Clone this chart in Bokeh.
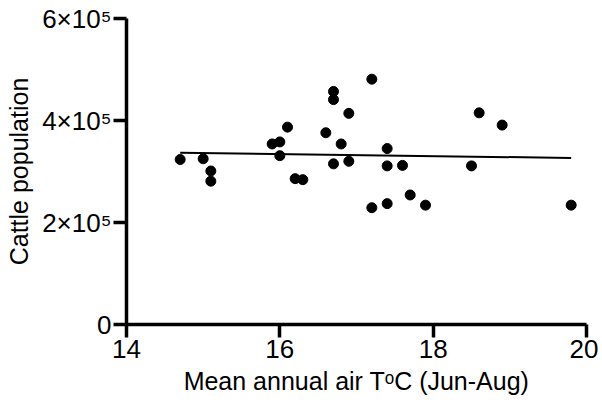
from bokeh.plotting import figure
from bokeh.models import FixedTicker, Range1d
from bokeh.embed import file_html
from bokeh.resources import INLINE

temp = [14.7, 15.0, 15.1, 15.1, 15.9, 16.0, 16.0, 16.1, 16.2, 16.3, 16.6, 16.7, 16.7, 16.7,
        16.8, 16.9, 16.9, 17.2, 17.2, 17.4, 17.4, 17.4, 17.6, 17.7, 17.9, 18.5, 18.6, 18.9, 19.8]
cattle = [323500, 325000, 301000, 281000, 354000, 358000, 331000, 387000, 286000, 284000,
          376000, 457000, 441000, 315000, 354000, 414000, 320000, 481000, 229000, 345000,
          311000, 237000, 312000, 254000, 234000, 311000, 415000, 391000, 234000]

fit_x = [14.7, 19.8]
fit_y = [337000, 326500]

x_ticks = [14, 16, 18, 20]
y_ticks = [0, 200000, 400000, 600000]
y_tick_labels = ["0", "2×10⁵", "4×10⁵", "6×10⁵"]

FONT = "Liberation Sans"

p = figure(width=598, height=408, output_backend="svg", toolbar_location=None,
           x_range=Range1d(14, 20), y_range=Range1d(0, 600000),
           min_border_left=126, min_border_top=18, min_border_right=12, min_border_bottom=84)
p.outline_line_color = None
p.grid.visible = False
p.background_fill_color = "white"

p.line(fit_x, fit_y, line_color="black", line_width=2)
p.scatter(temp, cattle, marker="circle", size=10, fill_color="black", line_color="black")

for ax in (p.xaxis[0], p.yaxis[0]):
    ax.axis_line_width = 3.5
    ax.major_tick_line_width = 3.5
    ax.major_tick_out = 13
    ax.major_tick_in = 0
    ax.minor_tick_line_color = None
    ax.major_label_text_font = FONT
    ax.major_label_text_font_size = "26px"
    ax.major_label_text_color = "black"
    ax.axis_label_text_font = FONT
    ax.axis_label_text_font_size = "25px"
    ax.axis_label_text_font_style = "normal"
    ax.axis_label_text_color = "black"
    ax.axis_line_color = "black"
    ax.major_tick_line_color = "black"

p.xaxis.ticker = FixedTicker(ticks=x_ticks)
p.yaxis.ticker = FixedTicker(ticks=y_ticks)
p.yaxis.major_label_overrides = {t: l for t, l in zip(y_ticks, y_tick_labels)}
p.yaxis.major_label_standoff = 2
p.xaxis.major_label_standoff = 2
p.xaxis.axis_label = "Mean annual air Tᵒ C (Jun-Aug)".replace("ᵒ ", "ᵒ")
p.yaxis.axis_label = "Cattle population"
p.xaxis.axis_label_standoff = 6
p.yaxis.axis_label_standoff = 6

open("out.html", "w").write(file_html(p, INLINE))
